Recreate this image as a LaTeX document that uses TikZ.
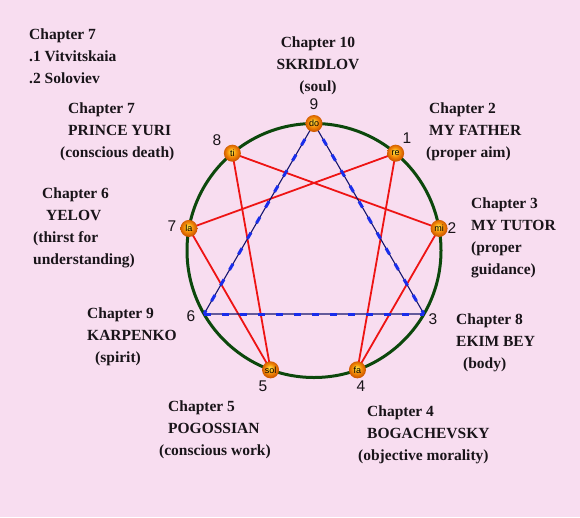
\documentclass[tikz,border=0pt]{standalone}
\usepackage{fontspec}
\setmainfont{Liberation Serif}
\newfontfamily\numfont{Liberation Sans}
\definecolor{bgpink}{RGB}{248,221,240}
\definecolor{ringgreen}{RGB}{12,72,12}
\definecolor{hexred}{RGB}{238,20,20}
\definecolor{trinavy}{RGB}{20,20,110}
\definecolor{triblue}{RGB}{25,45,235}
\definecolor{ballhi}{RGB}{255,220,60}
\definecolor{ballmid}{RGB}{245,145,10}
\definecolor{balldark}{RGB}{210,90,0}
\definecolor{txt}{RGB}{25,20,25}
\pgfdeclareradialshading{orangeball}{\pgfpoint{-3bp}{5bp}}{color(0bp)=(ballhi); color(3bp)=(ballhi); color(13bp)=(ballmid); color(24bp)=(balldark); color(32bp)=(balldark!90!black); color(50bp)=(balldark!90!black)}
\tikzset{
  ringline/.style={draw=ringgreen, line width=3pt},
  hexline/.style={draw=hexred, line width=1.8pt},
  trithin/.style={draw=trinavy, line width=1.1pt},
  tridash/.style={draw=triblue, line width=3pt, dash pattern=on 7pt off 11pt},
  ball/.style={circle, minimum size=17pt, inner sep=0pt, shading=orangeball, text=black,
    font=\numfont\fontsize{9}{9}\selectfont},
  numlabel/.style={font=\numfont\fontsize{15.5}{16}\selectfont, text=txt, inner sep=0pt},
  chapblock/.style={anchor=north west, align=left, inner sep=0pt, text=txt,
    font=\fontsize{15.5}{22}\selectfont\bfseries},
}
\begin{document}
\begin{tikzpicture}[x=1pt, y=-1pt]
\useasboundingbox (0,0) rectangle (580,517);
\fill[bgpink] (0,0) rectangle (580,517);
\coordinate (c) at (314,250.5);
\foreach \k in {0,...,8} {
  \coordinate (p\k) at ({314+127*sin(40*\k)},{250.5-127*cos(40*\k)});
}
\draw[ringline] (c) circle[radius=127pt];
% hexad
\draw[hexline] (p1) -- (p4) -- (p2) -- (p8) -- (p5) -- (p7) -- cycle;
% triangle
\draw[trithin] (p0) -- (p3) -- (p6) -- cycle;
\draw[tridash] (p0) -- (p3);
\draw[tridash] (p0) -- (p6);
\draw[tridash] (p6) -- (p3);
% balls
\node[ball] (b0) at (p0) {do};
\node[ball] (b1) at (p1) {re};
\node[ball] (b2) at (p2) {mi};
\node[ball] (b4) at (p4) {fa};
\node[ball] (b5) at (p5) {sol};
\node[ball] (b7) at (p7) {la};
\node[ball] (b8) at (p8) {ti};
% numbers
\node[numlabel] (n9) at (314,104) {9};
\node[numlabel] (n1) at (407,138) {1};
\node[numlabel] (n2) at (452,228) {2};
\node[numlabel] (n3) at (433,319) {3};
\node[numlabel] (n4) at (361,386) {4};
\node[numlabel] (n5) at (263,386) {5};
\node[numlabel] (n6) at (191,316) {6};
\node[numlabel] (n7) at (172,226) {7};
\node[numlabel] (n8) at (217,140) {8};
% chapter texts
\node[chapblock] (t7a) at (29,29) {Chapter 7\\.1 Vitvitskaia\\.2 Soloviev};
\node[chapblock, anchor=north, align=center] (t10) at (318,37) {Chapter 10\\SKRIDLOV\\(soul)};
\node[chapblock] (t2) at (426,103) {\hspace*{3pt}Chapter 2\\\hspace*{3pt}MY FATHER\\(proper aim)};
\node[chapblock] (t3) at (471,198) {Chapter 3\\MY TUTOR\\(proper\\guidance)};
\node[chapblock] (t7b) at (60,103) {\hspace*{8pt}Chapter 7\\\hspace*{8pt}PRINCE YURI\\(conscious death)};
\node[chapblock] (t6) at (33,188) {\hspace*{9pt}Chapter 6\\\hspace*{13pt}YELOV\\(thirst for\\understanding)};
\node[chapblock] (t9) at (87,308) {Chapter 9\\KARPENKO\\\hspace*{8pt}(spirit)};
\node[chapblock] (t5) at (159,401) {\hspace*{9pt}Chapter 5\\\hspace*{9pt}POGOSSIAN\\(conscious work)};
\node[chapblock] (t4) at (358,406) {\hspace*{9pt}Chapter 4\\\hspace*{9pt}BOGACHEVSKY\\(objective morality)};
\node[chapblock] (t8) at (456,314) {Chapter 8\\EKIM BEY\\\hspace*{7pt}(body)};
\end{tikzpicture}
\end{document}
